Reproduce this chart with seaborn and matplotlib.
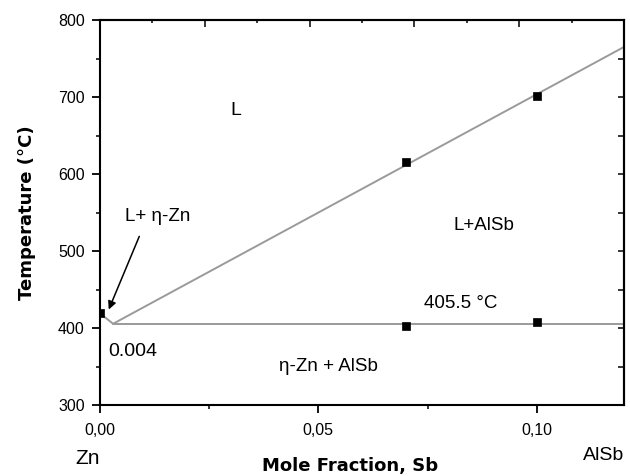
import numpy as np
import pandas as pd
import seaborn as sns
import matplotlib
matplotlib.use("Agg")
import matplotlib.pyplot as plt
from matplotlib.ticker import MultipleLocator, FuncFormatter

# phase boundaries (mole fraction Sb, temperature in C)
liquidus_x = [0.0, 0.003, 0.12]
liquidus_y = [419.0, 405.5, 765.0]
eutectic_x = [0.003, 0.12]
eutectic_y = [405.5, 405.5]

# measured points
meas_x = [0.0, 0.07, 0.10, 0.07, 0.10]
meas_y = [420.0, 615.0, 701.0, 402.0, 408.0]

y_ticks = [300, 400, 500, 600, 700, 800]
x_ticks = [0.00, 0.05, 0.10]

sns.set_style("ticks")
plt.rcParams['font.family'] = ['Liberation Sans', 'DejaVu Sans']
plt.rcParams['axes.linewidth'] = 1.5
plt.rcParams['text.color'] = 'black'
plt.rcParams['axes.labelcolor'] = 'black'
plt.rcParams['xtick.color'] = 'black'
plt.rcParams['ytick.color'] = 'black'

fig = plt.figure(figsize=(6.3, 4.76), dpi=100)
ax = fig.add_axes([100 / 630, 1 - 405 / 476, 524 / 630, 385 / 476])

line_gray = '#9a9a9a'
liq = pd.DataFrame({'x': liquidus_x, 'y': liquidus_y})
eut = pd.DataFrame({'x': eutectic_x, 'y': eutectic_y})
sns.lineplot(data=liq, x='x', y='y', sort=False, color=line_gray, lw=1.4, ax=ax)
sns.lineplot(data=eut, x='x', y='y', sort=False, color=line_gray, lw=1.4, ax=ax)

pts = pd.DataFrame({'x': meas_x, 'y': meas_y})
sns.scatterplot(data=pts, x='x', y='y', marker='s', color='black', s=38,
                edgecolor='black', linewidth=0.5, zorder=5, ax=ax)

ax.set_xlim(0, 0.12)
ax.set_ylim(300, 800)
ax.set_xticks(x_ticks)
ax.set_yticks(y_ticks)
ax.xaxis.set_minor_locator(MultipleLocator(0.025))
ax.yaxis.set_minor_locator(MultipleLocator(50))
ax.xaxis.set_major_formatter(FuncFormatter(lambda v, p: f"{v:.2f}".replace('.', ',')))
ax.tick_params(which='major', direction='out', length=6, width=1.3,
               labelsize=11.5, pad=5, colors='black')
ax.tick_params(which='minor', direction='out', length=3, width=1.1)
ax.tick_params(axis='x', which='major', pad=7)
for s in ax.spines.values():
    s.set_visible(True)
    s.set_linewidth(1.5)
    s.set_color('black')

# top and right axes with inward ticks, no labels
top = ax.secondary_xaxis('top')
top.set_xticks(np.arange(0.024, 0.121, 0.024))
top.xaxis.set_minor_locator(MultipleLocator(0.012))
top.tick_params(which='major', direction='in', length=5, width=1.1, labeltop=False)
top.tick_params(which='minor', direction='in', length=2.5, width=1.1)
top.spines['top'].set_linewidth(1.5)

right = ax.secondary_yaxis('right')
right.set_yticks(y_ticks)
right.yaxis.set_minor_locator(MultipleLocator(50))
right.tick_params(which='both', direction='in', length=4, width=1.1, labelright=False)
right.spines['right'].set_linewidth(1.5)

ax.set_xlabel('Mole Fraction, Sb', fontsize=13, fontweight='bold', family='DejaVu Sans')
ax.set_ylabel('Temperature (°C)', fontsize=13, fontweight='bold', family='DejaVu Sans')
ax.xaxis.set_label_coords(0.477, -0.135)
ax.yaxis.set_label_coords(-0.122, 0.5)

# phase region labels
ax.text(0.0311, 682, 'L', fontsize=14, ha='center', va='center')
ax.text(0.0057, 545, 'L+ η-Zn', fontsize=13.5, ha='left', va='center')
ax.text(0.0879, 533, 'L+AlSb', fontsize=13.5, ha='center', va='center')
ax.text(0.0826, 432, '405.5 °C', fontsize=13.5, ha='center', va='center')
ax.text(0.0074, 369, '0.004', fontsize=14, ha='center', va='center')
ax.text(0.0524, 350, 'η-Zn + AlSb', fontsize=13.5, ha='center', va='center')
ax.annotate('', xy=(0.0020, 424), xytext=(0.0090, 519),
            arrowprops=dict(arrowstyle='-|>', color='black', lw=1.1,
                            mutation_scale=12, shrinkA=0, shrinkB=0))

fig.text(88 / 630, 1 - 458 / 476, 'Zn', fontsize=15, ha='center', va='center')
fig.text(604 / 630, 1 - 456 / 476, 'AlSb', fontsize=14, ha='center', va='center')

fig.savefig('out.png', dpi=100)
